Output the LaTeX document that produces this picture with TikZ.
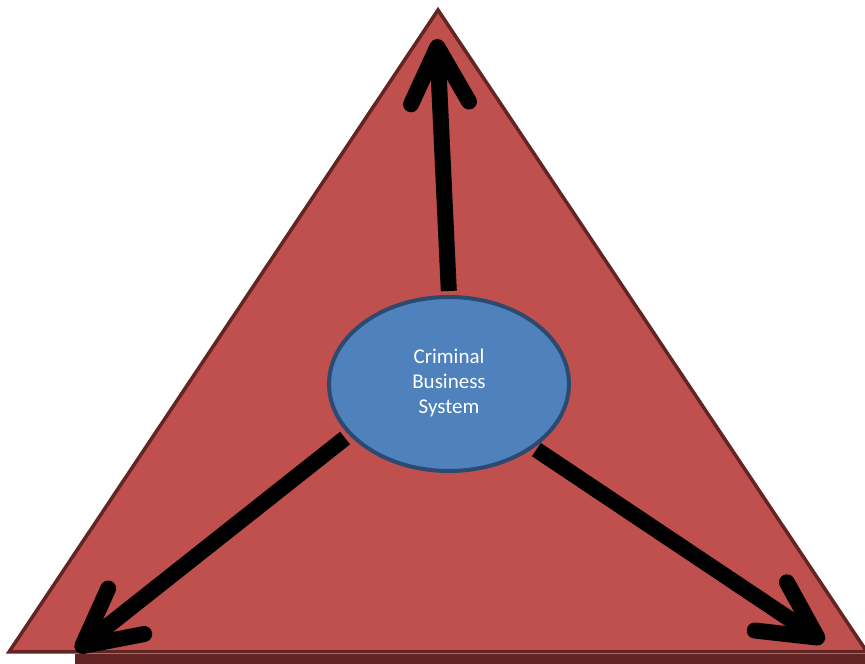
\documentclass[tikz,border=0pt]{standalone}
\usepackage{fontspec}
\setmainfont{Carlito}
\usetikzlibrary{arrows.meta,shapes.geometric}
\definecolor{trifill}{HTML}{C0504D}
\definecolor{triline}{HTML}{632523}
\definecolor{ellfill}{HTML}{4F81BD}
\definecolor{ellline}{HTML}{2C4A70}
\begin{document}
\begin{tikzpicture}[x=1pt,y=1pt,
    main node/.style={ellipse,draw=ellline,fill=ellfill,line width=4pt,minimum width=240pt,minimum height=174pt,inner sep=0pt,text=white,font=\fontsize{21}{25}\selectfont},
    big arrow/.style={line width=16pt,-{Straight Barb[length=56pt,width=58pt,round]}}]
    \useasboundingbox (0,0) rectangle (865,664);
    \fill[triline] (75,0) rectangle (865,10);
    \draw[triline,fill=trifill,line width=3.5pt] (9,12) -- (438,654) -- (867,12) -- cycle;
    \node[main node] at (449,280) (cbs) {\raisebox{-6pt}{\begin{tabular}{@{}c@{}}Criminal\\Business\\System\end{tabular}}};
    \coordinate (top) at (437,625);
    \coordinate (left) at (76,13);
    \coordinate (right) at (824,22);
    \path[big arrow]
        (cbs.north) edge[shorten <=4pt] (top)
        (cbs.207) edge[shorten <=5pt] (left)
        (cbs.-37) edge[shorten <=3pt] (right)
        ;
\end{tikzpicture}
\end{document}
